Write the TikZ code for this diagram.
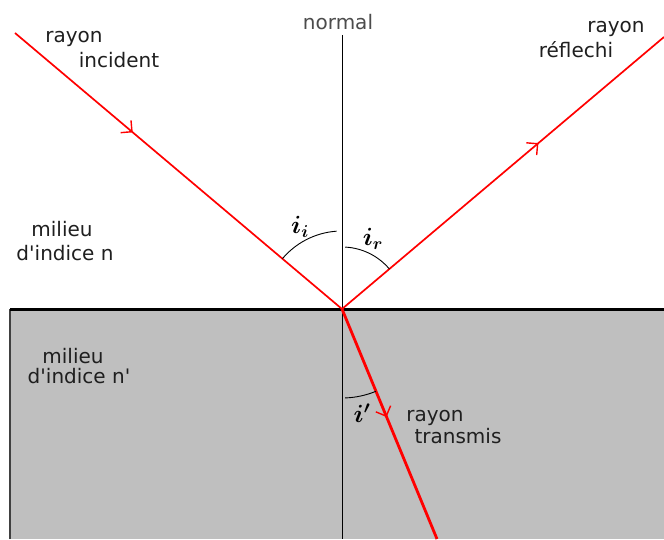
\documentclass[tikz,border=0pt]{standalone}
\usepackage{fontspec}
\setmainfont{DejaVu Sans}[Ligatures=TeXOff]
\usepackage{amsmath}
\usetikzlibrary{arrows.meta,decorations.markings}
\begin{document}
\begin{tikzpicture}[x=1pt,y=1pt,
  lbl/.style={font=\fontsize{20}{22}\selectfont, text=black!88, anchor=base, inner sep=0pt},
  ray/.style={red, line width=1.7pt},
  angarc/.style={black, line width=0.9pt},
  ang/.style={font=\fontsize{25}{25}\selectfont, inner sep=0pt},
  midarrow/.style={postaction={decorate}, decoration={markings,
     mark=at position #1 with {\arrow{Straight Barb[length=8pt,width=16pt,line width=1.4pt]}}}}
]
\fill[white] (0,0) rectangle (664,539);
\useasboundingbox (0,0) rectangle (664,539);
% lower medium
\fill[gray!50] (10,0) rectangle (664,230);
\draw[black!75, line width=2pt] (10,0) -- (10,230);
\draw[black, line width=3pt] (10,230) -- (664,230);
% points
\coordinate (O) at (342,230);
\coordinate (A) at (15,506);
\coordinate (B) at (664,502);
\coordinate (C) at (437,0);
\coordinate (Ntop) at (342,504);
\coordinate (Nbot) at (342,0);
% normal
\draw[black, line width=1pt] (Ntop) -- (Nbot);
% rays
\draw[ray, midarrow=0.36] (A) -- (O);
\draw[ray, midarrow=0.61] (O) -- (B);
\draw[red, line width=2.8pt, midarrow=0.47] (O) -- (C);
% angle arcs
\draw[angarc] (O) ++(139.8:78) arc[start angle=139.8, end angle=94, radius=78];
\draw[angarc] (O) ++(87:62) arc[start angle=87, end angle=40.2, radius=62];
\draw[angarc] (O) ++(-88:89) arc[start angle=-88, end angle=-67.6, radius=89];
% angle labels
\node[ang] (li) at (300,312) {$\boldsymbol{i}_{\boldsymbol{i}}$};
\node[ang] (lr) at (373,300) {$\boldsymbol{i}_{\boldsymbol{r}}$};
\node[ang] (lt) at (362,126) {$\boldsymbol{i'}$};
% texts
\node[lbl] (t1) at (74,496) {rayon};
\node[lbl] (t2) at (119,471) {incident};
\node[lbl, text=black!70] (t3) at (338,509) {normal};
\node[lbl] (t4) at (616,506) {rayon};
\node[lbl] (t5) at (576,481) {réflechi};
\node[lbl] (t6) at (62,302) {milieu};
\node[lbl] (t7) at (65,279) {d'indice n};
\node[lbl] (t8) at (73,176) {milieu};
\node[lbl] (t9) at (79,156) {d'indice n'};
\node[lbl] (t10) at (435,118) {rayon};
\node[lbl] (t11) at (458,96) {transmis};
\end{tikzpicture}
\end{document}
